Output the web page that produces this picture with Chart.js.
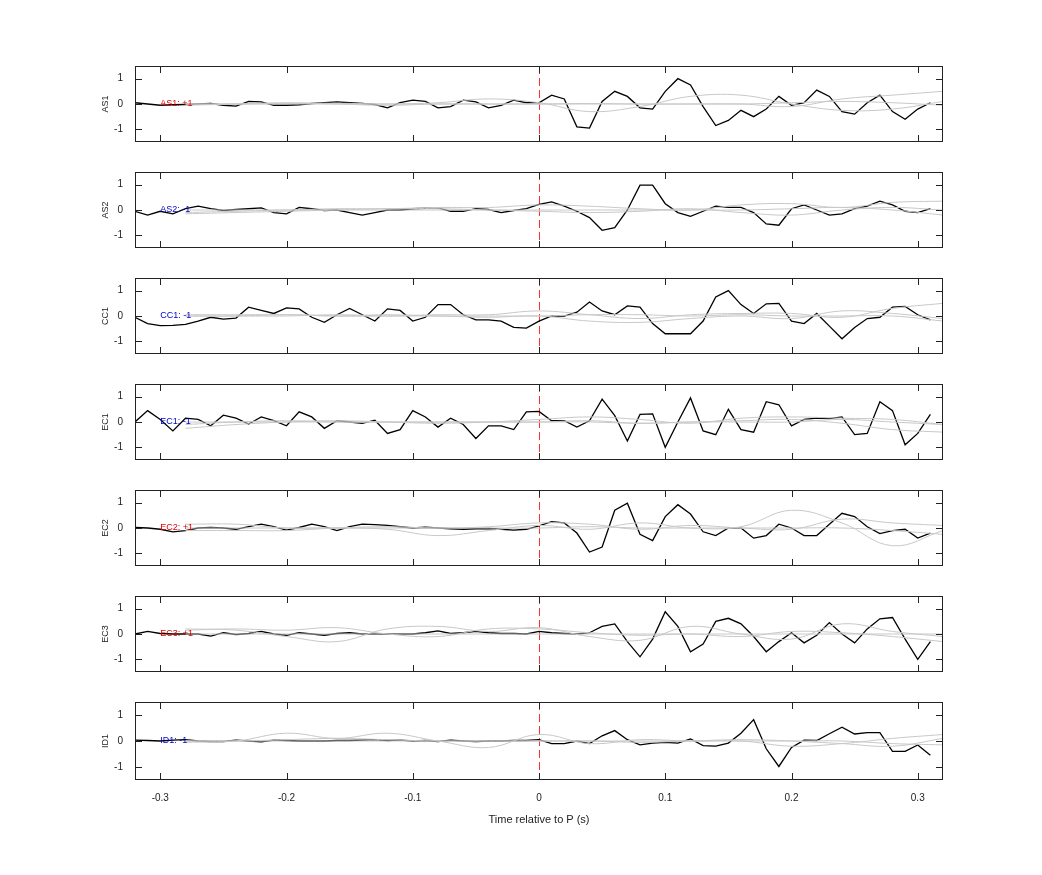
<!DOCTYPE html>
<html><head><meta charset="utf-8">
<script src="https://cdn.jsdelivr.net/npm/chart.js@4"></script>
<style>body{margin:0;background:#fff;width:1042px;height:875px;position:relative;overflow:hidden}canvas{position:absolute;left:0}</style>
</head><body>
<script>
const channels = ["AS1","AS2","CC1","EC1","EC2","EC3","ID1"];
const channelLabels = ["AS1: +1","AS2: -1","CC1: -1","EC1: -1","EC2: +1","EC3: +1","ID1: -1"];
const labelColors = ["#d00","#00c","#00c","#00c","#d00","#d00","#00c"];
const xTicks = [-0.3,-0.2,-0.1,0,0.1,0.2,0.3];
const yTicks = [-1,0,1];
const times = [-0.32,-0.31,-0.30,-0.29,-0.28,-0.27,-0.26,-0.25,-0.24,-0.23,-0.22,-0.21,-0.20,-0.19,-0.18,-0.17,-0.16,-0.15,-0.14,-0.13,-0.12,-0.11,-0.10,-0.09,-0.08,-0.07,-0.06,-0.05,-0.04,-0.03,-0.02,-0.01,
 0,0.01,0.02,0.03,0.04,0.05,0.06,0.07,0.08,0.09,0.10,0.11,0.12,0.13,0.14,0.15,0.16,0.17,0.18,0.19,0.20,0.21,0.22,0.23,0.24,0.25,0.26,0.27,0.28,0.29,0.30,0.31];
const grayTimes = [-0.28,-0.24,-0.20,-0.16,-0.12,-0.08,-0.04,0,0.04,0.08,0.12,0.16,0.20,0.24,0.28,0.32];

const AS1 = [0.05,0,-0.05,-0.03,-0.02,0,0.02,-0.05,-0.08,0.1,0.08,-0.05,-0.05,-0.03,0.02,0.05,0.08,0.05,0.02,-0.02,-0.15,0.05,0.15,0.1,-0.15,-0.1,0.15,0.08,-0.15,-0.05,0.15,0.05,
 0.05,0.35,0.2,-0.9,-0.95,0.1,0.5,0.3,-0.15,-0.2,0.5,1.0,0.75,-0.1,-0.85,-0.65,-0.25,-0.5,-0.2,0.3,-0.05,0.05,0.55,0.3,-0.3,-0.4,0.05,0.35,-0.3,-0.6,-0.2,0.05];
const AS2 = [-0.05,-0.2,-0.05,-0.15,0.05,0.15,0.05,-0.02,0.02,0.05,0.08,-0.1,-0.15,0.1,0.05,-0.02,0,-0.1,-0.2,-0.1,0,0,0.05,0.07,0.08,-0.05,-0.05,0.05,0.02,-0.1,-0.02,0.05,
 0.22,0.32,0.15,-0.05,-0.3,-0.8,-0.7,0,0.98,0.98,0.25,-0.1,-0.25,-0.05,0.15,0.1,0.1,-0.1,-0.55,-0.6,0.05,0.2,0,-0.2,-0.15,0.05,0.15,0.35,0.2,-0.05,-0.1,0.05];
const CC1 = [-0.05,-0.3,-0.38,-0.37,-0.33,-0.2,-0.05,-0.12,-0.08,0.35,0.22,0.1,0.32,0.28,-0.05,-0.25,0.05,0.3,0.05,-0.2,0.28,0.22,-0.2,-0.05,0.45,0.45,0.05,-0.15,-0.15,-0.2,-0.45,-0.48,
 -0.2,0,0,0.15,0.55,0.2,0.05,0.4,0.35,-0.3,-0.7,-0.7,-0.7,-0.2,0.75,1.0,0.45,0.1,0.48,0.5,-0.2,-0.3,0.1,-0.4,-0.9,-0.45,-0.1,-0.05,0.35,0.38,0.05,-0.15];
const EC1 = [0,0.45,0.1,-0.35,0.15,0.1,-0.15,0.27,0.15,-0.08,0.2,0.05,-0.15,0.4,0.2,-0.25,0.05,0,-0.05,0.07,-0.45,-0.3,0.45,0.2,-0.2,0.15,-0.1,-0.65,-0.15,-0.15,-0.3,0.4,
 0.42,0.05,0.05,-0.2,0.05,0.9,0.25,-0.75,0.3,0.32,-1.0,0,0.95,-0.35,-0.5,0.5,-0.3,-0.4,0.8,0.68,-0.15,0.1,0.15,0.13,0.2,-0.5,-0.45,0.8,0.45,-0.9,-0.45,0.3];
const EC2 = [0.02,0,-0.05,-0.15,-0.1,0,0.02,0,-0.05,0.05,0.15,0.05,-0.08,0.02,0.15,0.05,-0.1,0.05,0.15,0.13,0.1,0.05,0,0.03,0,-0.03,-0.05,-0.03,-0.02,-0.05,-0.08,-0.05,
 0.08,0.25,0.2,-0.2,-0.95,-0.75,0.7,0.98,-0.25,-0.5,0.45,0.92,0.55,-0.15,-0.3,0,0,-0.4,-0.3,0.15,0,-0.3,-0.3,0.15,0.58,0.45,0.05,-0.22,-0.1,-0.05,-0.4,-0.2];
const EC3 = [0,0.1,0.02,0,0,0,-0.08,0.05,-0.02,0.02,0.1,0,-0.05,0.05,0,-0.05,0.02,0.05,0,0,0,0,0,0.05,0.12,0.02,0.05,0.1,0.05,0.02,0.02,0,
 0.1,0.05,0.02,0,0.05,0.3,0.4,-0.3,-0.9,-0.2,0.88,0.3,-0.7,-0.4,0.5,0.62,0.4,-0.1,-0.7,-0.3,0.05,-0.35,-0.05,0.45,0,-0.35,0.2,0.6,0.65,-0.2,-1.0,-0.3];
const ID1 = [0.03,0.02,0,0.03,0.05,0,-0.02,-0.02,0.03,0,-0.03,0.03,0.02,0,0,0,0.02,0.02,0.03,0.05,0.02,0.03,0,0.02,-0.02,0.03,0,-0.02,0,0,0.02,0.02,
 0.05,-0.1,-0.1,0,-0.1,0.2,0.4,0.05,-0.15,-0.08,-0.05,-0.08,0.08,-0.18,-0.2,-0.08,0.3,0.82,-0.3,-0.98,-0.25,0.03,0.02,0.28,0.53,0.27,0.32,0.32,-0.4,-0.4,-0.15,-0.55];

const AS1_g1 = [0,0,0.02,0.03,0,0.05,0.2,0.05,-0.3,-0.1,0.3,0.35,0,-0.25,-0.2,0.1];
const AS1_g2 = [-0.05,0,0.05,0,-0.05,0,0,0,0,0,0,0,-0.1,0.2,0.35,0.5];
const AS1_g3 = [0,0,0,0,0,0,0,0,0.02,0,0,0,0.05,0.1,0.05,-0.05];
const AS2_g1 = [-0.1,-0.05,0,0.05,0.05,0.1,0.1,0.2,0.15,0.05,0,0.2,0.25,0.1,0.3,0.35];
const AS2_g2 = [-0.15,-0.1,-0.05,0,0.05,0.05,0,-0.05,-0.1,-0.05,0.05,-0.1,-0.2,0,0.1,0];
const AS2_g3 = [0,0,0,0,0,0,0,0,0,0,0,0,0.05,0.1,0,-0.2];
const CC1_g1 = [0.05,0.05,0.05,0,0,0.05,0.05,0.2,0.05,-0.1,0.05,0.1,0.1,-0.05,0.3,0.5];
const CC1_g2 = [0,0,0,0.05,0,0,-0.05,0,-0.2,-0.25,-0.1,0,-0.1,0.2,0.1,-0.1];
const CC1_g3 = [0,0,0.05,0,0.05,0,0,0,0.05,0.05,0,0.05,0,0,0,-0.2];
const EC1_g1 = [-0.25,-0.1,0,0.05,0,-0.05,0,0.1,0.2,0.1,-0.05,0.15,0.2,0.15,0.1,-0.1];
const EC1_g2 = [-0.1,0,0.05,0,0,0,0,0,0.05,-0.05,0,0.05,0.1,-0.05,-0.3,-0.4];
const EC1_g3 = [0,0,0,0,0,0,0,0,0,-0.05,0,0,0,0.1,0,-0.1];
const EC2_g1 = [0.15,0.15,0,0,-0.05,-0.3,-0.1,0.1,-0.05,0.2,0,0.05,0.7,0.2,-0.7,-0.1];
const EC2_g2 = [-0.1,-0.1,-0.1,0,0.05,0,0.05,0.2,0.15,-0.05,0.1,0,-0.05,0.35,0.2,0.1];
const EC2_g3 = [0,0,0,0,0,0,0,0,0.05,0,0,0,0,0,-0.1,-0.25];
const EC3_g1 = [0.2,0.15,-0.1,-0.3,0.2,0.3,0.1,0.25,-0.1,-0.25,0.3,0,-0.2,0.4,0.1,-0.1];
const EC3_g2 = [0.15,0.2,0.15,0.25,0,-0.1,0.2,0.2,0.05,-0.05,0,-0.1,0.1,0.05,-0.1,-0.3];
const EC3_g3 = [0,0,0,0,0,0,0,0,0,0,0,0,0,0,0,0];
const ID1_g1 = [-0.05,0,0.3,0.1,0.3,0,-0.25,0.25,-0.1,0.05,0,0,-0.2,-0.1,0.1,0.25];
const ID1_g2 = [0,0,0.05,0.1,0.05,0,0,0,0,-0.05,0,0.05,0,-0.1,-0.2,0.1];
const ID1_g3 = [0,0,0,0,0,0,0,0,0,0,0,0,0,0,-0.1,-0.15];

const blackSeries = [AS1,AS2,CC1,EC1,EC2,EC3,ID1];
const graySeries = [[AS1_g1,AS1_g2,AS1_g3],[AS2_g1,AS2_g2,AS2_g3],[CC1_g1,CC1_g2,CC1_g3],[EC1_g1,EC1_g2,EC1_g3],[EC2_g1,EC2_g2,EC2_g3],[EC3_g1,EC3_g2,EC3_g3],[ID1_g1,ID1_g2,ID1_g3]];

const PLOT_LEFT=135, PLOT_RIGHT=943, PAD=2, XAXIS_H=51;
const panelTops=[66,172,278,384,490,596,702];
const CANVAS_OFF=10, CANVAS_H=96, LAST_H=139;
const FONT='"Liberation Sans", Arial, sans-serif';

const framePlugin = {
  id:'frame',
  beforeDatasetsDraw(chart){
    const {ctx, chartArea:a, scales:{x}} = chart;
    const px = Math.round(x.getPixelForValue(0))+0.5;
    ctx.save();
    ctx.strokeStyle='#ff3030'; ctx.lineWidth=1; ctx.setLineDash([8,4]);
    ctx.beginPath(); ctx.moveTo(px,a.top); ctx.lineTo(px,a.bottom); ctx.stroke();
    ctx.restore();
  },
  afterDatasetsDraw(chart, args, opts){
    const {ctx, chartArea:a, scales:{x,y}} = chart;
    ctx.save();
    ctx.fillStyle=opts.color; ctx.font='9px '+FONT; ctx.textBaseline='middle'; ctx.textAlign='left';
    ctx.fillText(opts.text, x.getPixelForValue(-0.3), y.getPixelForValue(0));
    ctx.fillStyle='#222';
    ctx.translate(106, (a.top+a.bottom)/2); ctx.rotate(-Math.PI/2);
    ctx.textAlign='center'; ctx.fillText(opts.title,0,0);
    ctx.restore();
    ctx.save();
    ctx.strokeStyle='#222'; ctx.lineWidth=1;
    ctx.strokeRect(a.left+0.5, a.top+0.5, a.right-a.left-1, a.bottom-a.top-1);
    ctx.beginPath();
    xTicks.forEach(t=>{const p=Math.round(x.getPixelForValue(t))+0.5; ctx.moveTo(p,a.bottom); ctx.lineTo(p,a.bottom-7); ctx.moveTo(p,a.top); ctx.lineTo(p,a.top+7);});
    yTicks.forEach(t=>{const p=Math.round(y.getPixelForValue(t))+0.5; ctx.moveTo(a.left,p); ctx.lineTo(a.left+7,p); ctx.moveTo(a.right,p); ctx.lineTo(a.right-7,p);});
    ctx.stroke();
    ctx.restore();
  }
};

channels.forEach((ch,i)=>{
  const last = i===channels.length-1;
  const cv=document.createElement('canvas');
  const h = last ? LAST_H : CANVAS_H;
  cv.width=1042; cv.height=h;
  cv.style.top=(panelTops[i]-CANVAS_OFF)+'px'; cv.style.width='1042px'; cv.style.height=h+'px';
  document.body.appendChild(cv);
  const datasets=[];
  graySeries[i].forEach(g=>datasets.push({data:grayTimes.map((t,k)=>({x:t,y:g[k]})),borderColor:'#c8c8c8',borderWidth:1,pointRadius:0,tension:0.4}));
  datasets.push({data:times.map((t,k)=>({x:t,y:blackSeries[i][k]})),borderColor:'#000',borderWidth:1.3,pointRadius:0,tension:0});
  new Chart(cv,{type:'line',data:{datasets},
    options:{responsive:false,animation:false,devicePixelRatio:1,
      layout:{padding:{top:PAD,right:1042-PLOT_RIGHT,left:0,bottom:last?0:PAD}},
      plugins:{legend:{display:false},tooltip:{enabled:false},frame:{text:channelLabels[i],color:labelColors[i],title:ch}},
      scales:{
        x:{type:'linear',min:-0.32,max:0.32,
          afterBuildTicks:s=>{s.ticks=xTicks.map(v=>({value:v}));},
          afterFit:s=>{s.height=last?XAXIS_H:0;},
          grid:{display:false},border:{display:false},
          ticks:{display:last,color:'#222',font:{size:10,family:FONT},padding:4,maxRotation:0,callback:v=>String(Math.round(v*10)/10)},
          title:{display:last,text:'Time relative to P (s)',color:'#222',font:{size:11,family:FONT},padding:{top:6}}},
        y:{min:-1.5,max:1.5,
          afterBuildTicks:s=>{s.ticks=yTicks.map(v=>({value:v}));},
          afterFit:s=>{s.width=PLOT_LEFT;},
          grid:{display:false},border:{display:false},
          ticks:{color:'#222',font:{size:10,family:FONT},padding:4}}
      }},
    plugins:[framePlugin]});
});
</script>
</body></html>
